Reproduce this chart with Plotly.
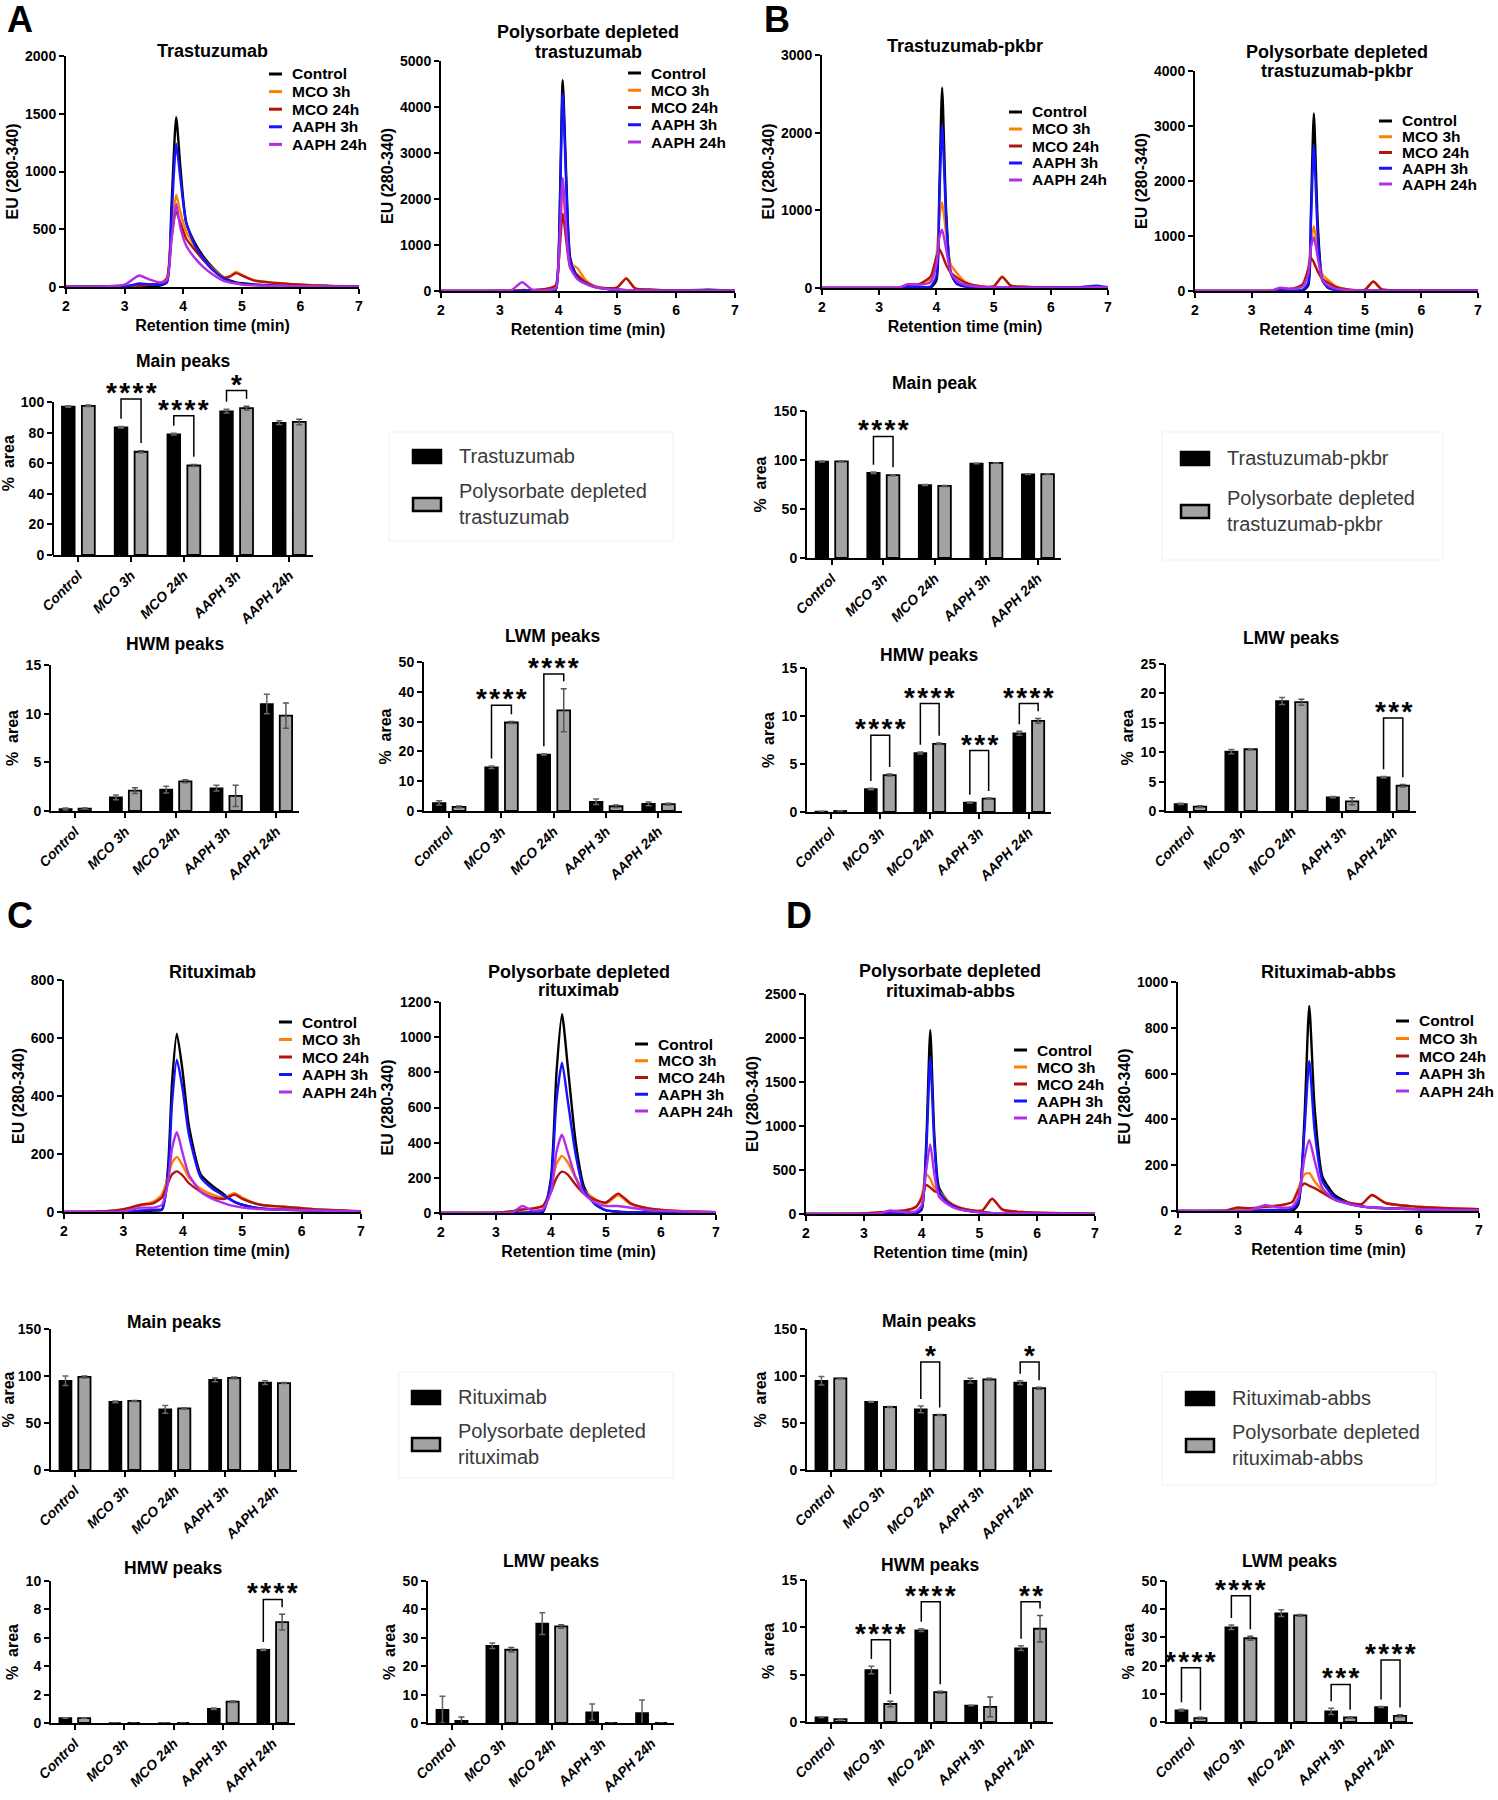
import plotly.graph_objects as go

W, H = 1498, 1800
FONT = "Liberation Sans, Arial, Helvetica, sans-serif"

conditions = ["Control", "MCO 3h", "MCO 24h", "AAPH 3h", "AAPH 24h"]
line_colors = {"Control": "#000000", "MCO 3h": "#ff8000", "MCO 24h": "#b0140f",
               "AAPH 3h": "#1414ff", "AAPH 24h": "#b22ee6"}

# ---------------- chromatograms (EU 280-340 vs retention time) ----------------
# A - trastuzumab
a1_time = [2.0, 2.5, 3.0, 3.15, 3.25, 3.4, 3.6, 3.72, 3.8, 3.88, 3.95, 4.05, 4.2, 4.35, 4.5, 4.7, 4.8, 4.9, 5.0, 5.2, 5.5, 6.0, 6.3, 6.6, 7.0]
a1_control = [3, 3, 5, 6, 8, 10, 12, 40, 700, 1470, 1050, 560, 380, 260, 170, 80, 55, 40, 32, 22, 14, 8, 15, 5, 3]
a1_mco3 = [3, 4, 8, 12, 15, 20, 30, 80, 500, 800, 650, 480, 350, 240, 160, 85, 95, 130, 105, 60, 40, 22, 14, 9, 5]
a1_mco24 = [3, 4, 8, 12, 15, 20, 30, 70, 430, 650, 560, 420, 320, 230, 150, 80, 90, 120, 100, 58, 38, 20, 12, 8, 5]
a1_aaph3 = [3, 3, 5, 20, 30, 25, 20, 40, 600, 1240, 950, 560, 360, 240, 150, 70, 50, 35, 25, 18, 12, 8, 8, 5, 3]
a1_aaph24 = [3, 3, 20, 70, 100, 70, 40, 60, 400, 720, 520, 360, 250, 170, 110, 50, 38, 30, 22, 15, 10, 7, 6, 4, 3]

# A - polysorbate depleted trastuzumab
a2_time = [2.0, 2.5, 3.0, 3.2, 3.38, 3.55, 3.8, 3.95, 4.0, 4.07, 4.13, 4.2, 4.32, 4.45, 4.6, 4.8, 5.0, 5.15, 5.3, 5.6, 6.0, 6.55, 7.0]
a2_control = [0, 0, 0, 0, 5, 5, 10, 30, 800, 4580, 2500, 700, 300, 180, 100, 50, 30, 20, 15, 10, 5, 30, 0]
a2_mco3 = [0, 0, 5, 10, 20, 20, 40, 100, 700, 2230, 1500, 600, 500, 250, 120, 60, 80, 280, 60, 30, 15, 10, 5]
a2_mco24 = [0, 0, 5, 10, 20, 20, 50, 120, 600, 1680, 1100, 500, 350, 200, 100, 60, 80, 270, 60, 30, 15, 10, 5]
a2_aaph3 = [0, 0, 0, 0, 5, 5, 10, 30, 700, 4300, 2300, 650, 280, 170, 90, 45, 30, 20, 15, 10, 5, 10, 0]
a2_aaph24 = [0, 0, 5, 20, 190, 30, 20, 60, 600, 2450, 1300, 500, 260, 160, 90, 45, 30, 20, 15, 10, 5, 5, 0]

# B - trastuzumab-pkbr
b1_time = [2.0, 3.0, 3.35, 3.5, 3.7, 3.9, 4.0, 4.05, 4.1, 4.17, 4.25, 4.35, 4.5, 4.7, 5.0, 5.15, 5.3, 5.6, 6.0, 6.5, 6.8, 7.0]
b1_control = [0, 0, 0, 0, 0, 5, 100, 1200, 2580, 1000, 200, 60, 20, 10, 5, 5, 5, 5, 5, 5, 10, 5]
b1_mco3 = [0, 0, 5, 40, 50, 120, 400, 900, 1100, 700, 300, 200, 80, 30, 20, 150, 30, 15, 10, 5, 5, 5]
b1_mco24 = [0, 0, 5, 40, 50, 150, 400, 500, 430, 300, 200, 140, 70, 30, 20, 140, 30, 15, 10, 5, 5, 5]
b1_aaph3 = [0, 0, 0, 10, 10, 20, 150, 1100, 2100, 900, 200, 60, 20, 10, 5, 5, 5, 5, 5, 10, 30, 10]
b1_aaph24 = [0, 0, 5, 50, 40, 80, 300, 650, 750, 500, 200, 100, 40, 20, 10, 10, 5, 5, 5, 5, 10, 5]

# B - polysorbate depleted trastuzumab-pkbr
b2_time = [2.0, 3.0, 3.35, 3.5, 3.7, 3.9, 4.0, 4.05, 4.1, 4.17, 4.25, 4.35, 4.5, 4.7, 5.0, 5.15, 5.3, 5.6, 6.0, 6.5, 6.8, 7.0]
b2_control = [0, 0, 0, 0, 0, 5, 100, 1500, 3230, 1200, 200, 60, 20, 10, 5, 5, 5, 5, 5, 5, 5, 5]
b2_mco3 = [0, 0, 5, 30, 40, 100, 400, 900, 1180, 700, 300, 200, 80, 30, 20, 180, 30, 15, 10, 5, 5, 5]
b2_mco24 = [0, 0, 5, 30, 40, 120, 400, 600, 520, 350, 220, 150, 70, 30, 20, 170, 30, 15, 10, 5, 5, 5]
b2_aaph3 = [0, 0, 0, 10, 10, 20, 150, 1300, 2650, 1000, 200, 60, 20, 10, 5, 5, 5, 5, 5, 5, 10, 5]
b2_aaph24 = [0, 0, 5, 60, 40, 80, 300, 800, 980, 600, 200, 100, 40, 20, 10, 10, 5, 5, 5, 5, 5, 5]

# C - rituximab
c1_time = [2.0, 2.7, 3.0, 3.3, 3.5, 3.65, 3.75, 3.82, 3.9, 4.0, 4.1, 4.3, 4.5, 4.7, 4.87, 5.0, 5.3, 5.7, 6.2, 7.0]
c1_control = [0, 0, 0, 2, 5, 8, 150, 450, 615, 480, 300, 130, 90, 60, 35, 25, 12, 8, 5, 2]
c1_mco3 = [0, 3, 8, 25, 35, 60, 120, 170, 190, 160, 120, 80, 60, 50, 65, 50, 25, 18, 10, 3]
c1_mco24 = [0, 3, 10, 25, 30, 50, 100, 130, 140, 125, 100, 70, 50, 45, 60, 45, 25, 18, 10, 3]
c1_aaph3 = [0, 0, 0, 5, 8, 10, 120, 380, 525, 420, 270, 120, 80, 55, 35, 25, 12, 8, 5, 2]
c1_aaph24 = [0, 0, 2, 15, 15, 25, 100, 220, 275, 200, 130, 70, 45, 30, 20, 15, 10, 8, 5, 2]

# C - polysorbate depleted rituximab
c2_time = [2.0, 3.0, 3.3, 3.48, 3.65, 3.85, 4.0, 4.1, 4.2, 4.3, 4.45, 4.6, 4.8, 5.0, 5.22, 5.45, 5.8, 6.3, 7.0]
c2_control = [0, 0, 0, 0, 2, 5, 200, 800, 1130, 850, 400, 150, 50, 15, 8, 5, 3, 2, 0]
c2_mco3 = [0, 2, 10, 20, 25, 40, 150, 280, 325, 290, 200, 130, 80, 55, 100, 50, 25, 12, 5]
c2_mco24 = [0, 2, 10, 20, 25, 40, 120, 200, 235, 220, 160, 110, 75, 60, 110, 55, 25, 12, 5]
c2_aaph3 = [0, 0, 0, 2, 5, 10, 180, 640, 855, 650, 330, 130, 50, 15, 8, 5, 3, 2, 0]
c2_aaph24 = [0, 0, 5, 40, 15, 20, 120, 350, 445, 350, 200, 110, 60, 40, 40, 30, 15, 10, 5]

# D - polysorbate depleted rituximab-abbs
d1_time = [2.0, 3.0, 3.3, 3.45, 3.7, 3.9, 4.0, 4.08, 4.15, 4.22, 4.3, 4.45, 4.6, 4.8, 5.05, 5.22, 5.4, 5.8, 6.5, 7.0]
d1_control = [0, 0, 0, 0, 0, 5, 50, 800, 2090, 900, 300, 150, 80, 40, 20, 10, 10, 5, 3, 0]
d1_mco3 = [0, 5, 20, 30, 40, 80, 200, 450, 400, 300, 260, 150, 90, 50, 40, 170, 50, 20, 8, 3]
d1_mco24 = [0, 5, 20, 30, 40, 80, 180, 330, 300, 260, 240, 140, 85, 50, 40, 175, 50, 20, 8, 3]
d1_aaph3 = [0, 0, 0, 5, 5, 10, 60, 700, 1780, 800, 260, 130, 70, 35, 15, 10, 8, 5, 3, 0]
d1_aaph24 = [0, 0, 10, 40, 20, 30, 100, 500, 790, 450, 200, 110, 60, 35, 15, 10, 8, 5, 3, 0]

# D - rituximab-abbs
d2_time = [2.0, 2.8, 2.97, 3.2, 3.45, 3.7, 3.9, 4.0, 4.1, 4.18, 4.27, 4.4, 4.6, 4.85, 5.05, 5.22, 5.45, 5.9, 6.5, 7.0]
d2_control = [0, 0, 0, 0, 0, 0, 0, 30, 400, 895, 450, 150, 70, 35, 20, 15, 12, 8, 5, 3]
d2_mco3 = [0, 2, 10, 12, 18, 25, 40, 100, 160, 165, 130, 90, 55, 35, 30, 70, 35, 20, 12, 8]
d2_mco24 = [0, 2, 15, 12, 18, 25, 40, 90, 120, 110, 100, 80, 50, 35, 30, 70, 35, 20, 12, 8]
d2_aaph3 = [0, 0, 0, 0, 5, 5, 10, 40, 350, 655, 350, 130, 60, 30, 20, 15, 12, 8, 5, 3]
d2_aaph24 = [0, 0, 0, 5, 25, 15, 20, 60, 230, 310, 220, 100, 50, 30, 20, 15, 12, 8, 5, 3]

# ---------------- bar charts (% area, mean and SD) ----------------
a_main = [97, 83.5, 79, 94, 86.5]
a_main_err = [0.5, 0.5, 0.5, 1.2, 1.2]
a_main_ps = [97.5, 67.5, 58.5, 96, 87]
a_main_ps_err = [0.5, 0.7, 0.7, 1.2, 1.8]
a_main_sig = [("MCO 3h", "****", 102), ("MCO 24h", "****", 91), ("AAPH 3h", "*", 107.5)]

a_hmw = [0.2, 1.4, 2.2, 2.35, 11.0]
a_hmw_err = [0.1, 0.25, 0.35, 0.3, 1.0]
a_hmw_ps = [0.25, 2.1, 3.05, 1.55, 9.8]
a_hmw_ps_err = [0.05, 0.3, 0.15, 1.1, 1.3]

a_lmw = [2.7, 14.7, 19.0, 3.1, 2.4]
a_lmw_err = [0.7, 0.4, 0.2, 0.9, 0.6]
a_lmw_ps = [1.4, 29.7, 33.8, 1.6, 2.3]
a_lmw_ps_err = [0.3, 0.3, 7.2, 0.4, 0.3]
a_lmw_sig = [("MCO 3h", "****", 35.5), ("MCO 24h", "****", 46)]

b_main = [98.5, 87, 74.5, 96.5, 85.5]
b_main_err = [0.5, 0.7, 0.5, 0.3, 0.3]
b_main_ps = [98.5, 84.5, 73.5, 97, 85.5]
b_main_ps_err = [0.5, 0.5, 0.5, 0.3, 0.3]
b_main_sig = [("MCO 3h", "****", 124)]

b_hmw = [0.05, 2.4, 6.15, 1.0, 8.2]
b_hmw_err = [0.02, 0.08, 0.1, 0.05, 0.2]
b_hmw_ps = [0.1, 3.85, 7.1, 1.4, 9.5]
b_hmw_ps_err = [0.02, 0.1, 0.08, 0.05, 0.25]
b_hmw_sig = [("MCO 3h", "****", 8.0), ("MCO 24h", "****", 11.3), ("AAPH 3h", "***", 6.4), ("AAPH 24h", "****", 11.3)]

b_lmw = [1.2, 10.1, 18.7, 2.35, 5.75]
b_lmw_err = [0.1, 0.35, 0.6, 0.1, 0.1]
b_lmw_ps = [0.75, 10.5, 18.5, 1.65, 4.3]
b_lmw_ps_err = [0.15, 0.1, 0.5, 0.6, 0.2]
b_lmw_sig = [("AAPH 24h", "***", 15.8)]

c_main = [95, 72.5, 64.5, 96, 93]
c_main_err = [5, 1, 4, 2, 2]
c_main_ps = [99, 73.5, 65.5, 98, 92.5]
c_main_ps_err = [1, 0.5, 0.5, 1, 0.5]

c_hmw = [0.35, 0, 0, 1.0, 5.15]
c_hmw_err = [0.02, 0, 0, 0.05, 0.05]
c_hmw_ps = [0.35, 0, 0, 1.5, 7.1]
c_hmw_ps_err = [0.02, 0, 0, 0.05, 0.55]
c_hmw_sig = [("AAPH 24h", "****", 8.7)]

c_lmw = [4.7, 27.2, 35.0, 3.8, 3.5]
c_lmw_err = [4.7, 1.0, 3.8, 2.9, 4.6]
c_lmw_ps = [0.7, 25.8, 34.0, 0, 0]
c_lmw_ps_err = [1.4, 0.8, 0.6, 0, 0]

d_main = [95, 72.5, 64.5, 95, 93]
d_main_err = [4.5, 0.5, 3.5, 2.5, 2]
d_main_ps = [97.5, 67, 58.5, 96.5, 87]
d_main_ps_err = [0.5, 0.5, 0.5, 1, 1]
d_main_sig = [("MCO 24h", "*", 115), ("AAPH 24h", "*", 115)]

d_hmw = [0.5, 5.5, 9.7, 1.75, 7.8]
d_hmw_err = [0.03, 0.4, 0.15, 0.03, 0.25]
d_hmw_ps = [0.3, 1.9, 3.15, 1.6, 9.85]
d_hmw_ps_err = [0.05, 0.3, 0.1, 1.05, 1.4]
d_hmw_sig = [("MCO 3h", "****", 8.7), ("MCO 24h", "****", 12.7), ("AAPH 24h", "**", 12.7)]

d_lmw = [4.2, 33.6, 38.6, 3.8, 5.3]
d_lmw_err = [0.3, 0.8, 1.2, 1.1, 0.2]
d_lmw_ps = [1.4, 29.7, 37.8, 1.6, 2.2]
d_lmw_ps_err = [0.3, 0.7, 0.3, 0.2, 0.4]
d_lmw_sig = [("Control", "****", 19.2), ("MCO 3h", "****", 44.8), ("AAPH 3h", "***", 13.3), ("AAPH 24h", "****", 22)]

# ---------------------------------------------------------------------------
fig = go.Figure()
axes = {}
shapes = []
annots = []

BW = 0.245  # bar width (category units)
BD = 0.19   # half distance between the two bars of a group


def add_axes(x0, x1, ytop, ybot):
    n = len(axes) // 2 + 1
    sfx = "" if n == 1 else str(n)
    axes["xaxis" + sfx] = dict(domain=[x0 / W, x1 / W], anchor="y" + sfx)
    axes["yaxis" + sfx] = dict(domain=[1 - ybot / H, 1 - ytop / H], anchor="x" + sfx)
    return "x" + sfx, "y" + sfx, "xaxis" + sfx, "yaxis" + sfx


def axis_style(size=14, italic=False):
    return dict(showline=True, linecolor="black", linewidth=2, ticks="outside", ticklen=5,
                tickwidth=2, tickcolor="black", showgrid=False, zeroline=False,
                automargin=False, fixedrange=True,
                tickfont=dict(family=FONT, size=size, color="black", weight="bold",
                              style="italic" if italic else "normal"))


def title_font(size=16):
    return dict(family=FONT, size=size, color="black", weight="bold")


def text(x, y, s, size=17, bold=True, color="black", xanchor="center", yanchor="middle"):
    annots.append(dict(xref="paper", yref="paper", x=x / W, y=1 - y / H, text=s,
                       showarrow=False, align="left", xanchor=xanchor, yanchor=yanchor,
                       font=dict(family=FONT, size=size, color=color,
                                 weight="bold" if bold else "normal")))


def chromatogram(frame, ymax, dtick, title, title_y, time, series, legend):
    x0, x1, ytop, ybot = frame
    xa, ya, xk, yk = add_axes(x0, x1, ytop, ybot)
    for name, vals in zip(conditions, series):
        fig.add_trace(go.Scatter(x=time, y=vals, mode="lines", name=name, xaxis=xa, yaxis=ya,
                                 showlegend=False,
                                 line=dict(color=line_colors[name], width=2.4,
                                           shape="spline", smoothing=0.6)))
    axes[xk].update(range=[2, 7], tick0=2, dtick=1,
                    title=dict(text="Retention time (min)", standoff=7, font=title_font(16)),
                    **axis_style(14))
    axes[yk].update(range=[0, ymax], tick0=0, dtick=dtick,
                    title=dict(text="EU (280-340)", standoff=2, font=title_font(16)),
                    **axis_style(14))
    for line, ty in zip(title, title_y):
        text((x0 + x1) / 2, ty, line, 18)
    lx, ly, step = legend
    for k, name in enumerate(conditions):
        y = ly + k * step
        shapes.append(dict(type="line", xref="paper", yref="paper", x0=lx / W, x1=(lx + 13) / W,
                           y0=1 - y / H, y1=1 - y / H,
                           line=dict(color=line_colors[name], width=3)))
        text(lx + 21, y, name, 15.5, xanchor="left")


def bar_chart(frame, ymax, dtick, title, title_y, mab, mab_err, ps, ps_err, sig=(), yext=None):
    x0, x1, ytop, ybot = frame          # ytop = pixel row of ymax
    top = yext if yext else ymax
    ytop_px = ybot - (ybot - ytop) * top / ymax
    xa, ya, xk, yk = add_axes(x0, x1, ytop_px, ybot)
    pos = list(range(len(conditions)))
    fig.add_trace(go.Bar(x=pos, y=mab, width=BW, offset=-BD - BW / 2, xaxis=xa, yaxis=ya,
                         showlegend=False,
                         marker=dict(color="black", line=dict(color="black", width=1.5)),
                         error_y=dict(type="data", array=mab_err, color="#666666",
                                      thickness=1.5, width=3)))
    fig.add_trace(go.Bar(x=pos, y=ps, width=BW, offset=BD - BW / 2, xaxis=xa, yaxis=ya,
                         showlegend=False,
                         marker=dict(color="#a3a3a3", line=dict(color="black", width=1.8)),
                         error_y=dict(type="data", array=ps_err, color="#555555",
                                      thickness=1.5, width=3)))
    axes[xk].update(range=[-0.48, 4.45], tickvals=pos, ticktext=conditions, tickangle=-45,
                    **axis_style(14, italic=True))
    ystyle = axis_style(14)
    if yext:
        ystyle["showline"] = False
        shapes.append(dict(type="line", xref="paper", yref=ya, x0=x0 / W, x1=x0 / W,
                           y0=0, y1=ymax, line=dict(color="black", width=2)))
    axes[yk].update(range=[0, top], tickvals=list(range(0, int(ymax) + 1, dtick)),
                    title=dict(text="%  area", standoff=3, font=title_font(16)), **ystyle)
    text((x0 + x1) / 2, title_y, title, 17.5)
    gap = 0.05 * ymax
    for cond, stars, level in sig:
        i = conditions.index(cond)
        xl, xr = i - BD, i + BD
        yl = mab[i] + mab_err[i] + gap
        yr = ps[i] + ps_err[i] + gap
        shapes.append(dict(type="path", xref=xa, yref=ya,
                           path=f"M {xl},{yl} L {xl},{level} L {xr},{level} L {xr},{yr}",
                           line=dict(color="black", width=1.5)))
        annots.append(dict(xref=xa, yref=ya, x=i, y=level, text="\u200a".join(stars),
                           showarrow=False, xanchor="center", yanchor="bottom", yshift=-11,
                           font=dict(family=FONT, size=28, color="black", weight="bold")))


def bar_legend(box, sq_x, row1_y, row2_y, first, second):
    bx0, bx1, by0, by1 = box
    shapes.append(dict(type="rect", xref="paper", yref="paper", x0=bx0 / W, x1=bx1 / W,
                       y0=1 - by1 / H, y1=1 - by0 / H, line=dict(color="#efefef", width=1),
                       fillcolor="white", layer="below"))
    for y, fill in ((row1_y, "black"), (row2_y, "#a3a3a3")):
        shapes.append(dict(type="rect", xref="paper", yref="paper", x0=sq_x / W,
                           x1=(sq_x + 28) / W, y0=1 - (y + 7) / H, y1=1 - (y - 6) / H,
                           fillcolor=fill, line=dict(color="black", width=2.5)))
    text(sq_x + 44, row1_y, first, 20, bold=False, color="#3a3a3a", xanchor="left")
    text(sq_x + 44, row2_y, second, 20, bold=False, color="#3a3a3a", xanchor="left")


# ---------------- panel A ----------------
text(20, 20, "A", 36)
chromatogram((66, 359, 56, 287), 2000, 500, ["Trastuzumab"], [51], a1_time,
             [a1_control, a1_mco3, a1_mco24, a1_aaph3, a1_aaph24], (269, 74, 17.6))
chromatogram((441, 735, 61, 291), 5000, 1000, ["Polysorbate depleted", "trastuzumab"], [32, 52],
             a2_time, [a2_control, a2_mco3, a2_mco24, a2_aaph3, a2_aaph24], (628, 73, 17.25))
bar_chart((53, 313, 402, 555), 100, 20, "Main peaks", 361, a_main, a_main_err,
          a_main_ps, a_main_ps_err, a_main_sig, yext=120)
bar_legend((389, 673, 432, 541), 413, 456, 504, "Trastuzumab", "Polysorbate depleted<br>trastuzumab")
bar_chart((51, 299, 665, 811), 15, 5, "HWM peaks", 644, a_hmw, a_hmw_err, a_hmw_ps, a_hmw_ps_err)
bar_chart((424, 682, 662, 811), 50, 10, "LWM peaks", 636, a_lmw, a_lmw_err, a_lmw_ps,
          a_lmw_ps_err, a_lmw_sig)

# ---------------- panel B ----------------
text(777, 20, "B", 36)
chromatogram((822, 1108, 55, 288), 3000, 1000, ["Trastuzumab-pkbr"], [46], b1_time,
             [b1_control, b1_mco3, b1_mco24, b1_aaph3, b1_aaph24], (1009, 112, 17))
chromatogram((1195, 1478, 71, 291), 4000, 1000, ["Polysorbate depleted", "trastuzumab-pkbr"],
             [52, 71], b2_time, [b2_control, b2_mco3, b2_mco24, b2_aaph3, b2_aaph24],
             (1379, 121, 15.75))
bar_chart((807, 1061, 411, 558), 150, 50, "Main peak", 383, b_main, b_main_err, b_main_ps,
          b_main_ps_err, b_main_sig)
bar_legend((1162, 1443, 432, 560), 1181, 458, 511, "Trastuzumab-pkbr",
           "Polysorbate depleted<br>trastuzumab-pkbr")
bar_chart((807, 1051, 668, 812), 15, 5, "HMW peaks", 655, b_hmw, b_hmw_err, b_hmw_ps,
          b_hmw_ps_err, b_hmw_sig)
bar_chart((1166, 1416, 664, 811), 25, 5, "LMW peaks", 638, b_lmw, b_lmw_err, b_lmw_ps,
          b_lmw_ps_err, b_lmw_sig)

# ---------------- panel C ----------------
text(20, 916, "C", 36)
chromatogram((64, 361, 980, 1212), 800, 200, ["Rituximab"], [972], c1_time,
             [c1_control, c1_mco3, c1_mco24, c1_aaph3, c1_aaph24], (279, 1022, 17.5))
chromatogram((441, 716, 1002, 1213), 1200, 200, ["Polysorbate depleted", "rituximab"], [972, 990],
             c2_time, [c2_control, c2_mco3, c2_mco24, c2_aaph3, c2_aaph24], (635, 1044, 16.75))
bar_chart((51, 297, 1329, 1470), 150, 50, "Main peaks", 1322, c_main, c_main_err, c_main_ps,
          c_main_ps_err)
bar_legend((399, 673, 1372, 1478), 412, 1397, 1444, "Rituximab", "Polysorbate depleted<br>rituximab")
bar_chart((51, 295, 1581, 1723), 10, 2, "HMW peaks", 1568, c_hmw, c_hmw_err, c_hmw_ps,
          c_hmw_ps_err, c_hmw_sig)
bar_chart((428, 674, 1581, 1723), 50, 10, "LMW peaks", 1561, c_lmw, c_lmw_err, c_lmw_ps,
          c_lmw_ps_err)

# ---------------- panel D ----------------
text(799, 916, "D", 36)
chromatogram((806, 1095, 994, 1214), 2500, 500, ["Polysorbate depleted", "rituximab-abbs"],
             [971, 991], d1_time, [d1_control, d1_mco3, d1_mco24, d1_aaph3, d1_aaph24],
             (1014, 1050, 17))
chromatogram((1178, 1479, 982, 1211), 1000, 200, ["Rituximab-abbs"], [972], d2_time,
             [d2_control, d2_mco3, d2_mco24, d2_aaph3, d2_aaph24], (1396, 1021, 17.5))
bar_chart((807, 1052, 1329, 1470), 150, 50, "Main peaks", 1321, d_main, d_main_err, d_main_ps,
          d_main_ps_err, d_main_sig)
bar_legend((1162, 1436, 1372, 1485), 1186, 1398, 1445, "Rituximab-abbs",
           "Polysorbate depleted<br>rituximab-abbs")
bar_chart((807, 1053, 1580, 1722), 15, 5, "HWM peaks", 1565, d_hmw, d_hmw_err, d_hmw_ps,
          d_hmw_ps_err, d_hmw_sig)
bar_chart((1167, 1413, 1581, 1722), 50, 10, "LWM peaks", 1561, d_lmw, d_lmw_err, d_lmw_ps,
          d_lmw_ps_err, d_lmw_sig)

fig.update_layout(width=W, height=H, margin=dict(l=0, r=0, t=0, b=0),
                  paper_bgcolor="white", plot_bgcolor="white", showlegend=False,
                  barmode="overlay", font=dict(family=FONT, color="black"),
                  shapes=shapes, annotations=annots, **axes)
# drop the default page margin so the 1498x1800 figure fills the window exactly
fig.write_html("out.html", config={"displayModeBar": False},
               post_script="document.body.style.margin='0';")
